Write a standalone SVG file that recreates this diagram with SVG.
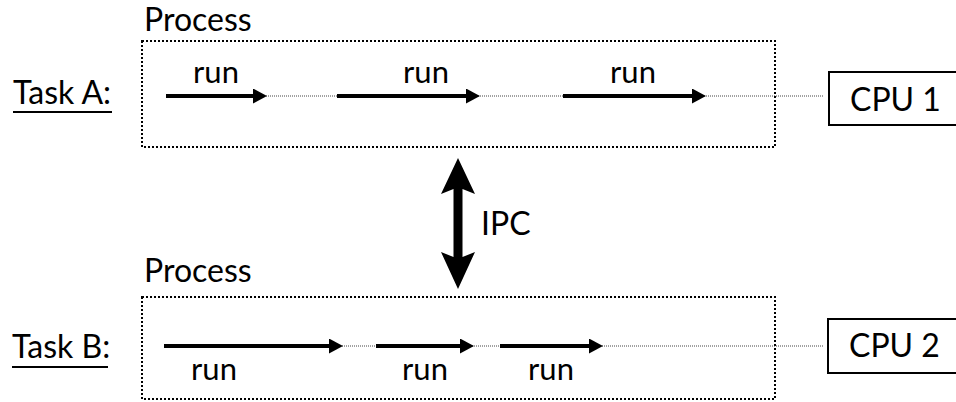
<svg xmlns="http://www.w3.org/2000/svg" width="956" height="402" viewBox="0 0 956 402">
<defs>
<style>
text{font-family:"Lato","Liberation Sans",sans-serif;fill:#000}
.lbl{font-size:31px}
.big{font-size:32px}
.proc{fill:none;stroke:#000;stroke-width:2;stroke-dasharray:2 2}
.run{stroke:#000;stroke-width:4;fill:none}
.idle{stroke:#444;stroke-width:1;stroke-dasharray:1 1;fill:none}
.cpu{fill:#fff;stroke:#000;stroke-width:2}
.ul{stroke:#000;stroke-width:2}
</style>
<marker id="ah" markerUnits="userSpaceOnUse" markerWidth="16" markerHeight="16" refX="2" refY="7.5" orient="auto">
<path d="M0,0 L14,7.5 L0,15 Z" fill="#000"/>
</marker>
</defs>

<g id="taskA-label">
<text class="big" x="13" y="104">Task A:</text>
<line class="ul" x1="13" y1="112" x2="112" y2="112"/>
</g>
<g id="taskB-label">
<text class="big" x="12" y="358">Task B:</text>
<line class="ul" x1="12" y1="367" x2="108" y2="367"/>
</g>

<g id="connectors">
<line class="idle" x1="260" y1="96" x2="823" y2="96"/>
<line class="idle" x1="336" y1="346" x2="823" y2="346"/>
<line class="run" x1="166" y1="96" x2="255" y2="96" marker-end="url(#ah)"/>
<line class="run" x1="337" y1="96" x2="468" y2="96" marker-end="url(#ah)"/>
<line class="run" x1="563" y1="96" x2="694" y2="96" marker-end="url(#ah)"/>
<line class="run" x1="164" y1="346" x2="331" y2="346" marker-end="url(#ah)"/>
<line class="run" x1="376" y1="346" x2="462" y2="346" marker-end="url(#ah)"/>
<line class="run" x1="500" y1="346" x2="591" y2="346" marker-end="url(#ah)"/>
<path id="ipc-arrow" d="M458,158 L475,194 L462.5,189 L462.5,257 L475,252 L458,289 L441,252 L453.5,257 L453.5,189 L441,194 Z" fill="#000"/>
</g>

<g id="processA">
<rect class="proc" x="142" y="41" width="633" height="106"/>
<text class="big" x="144" y="31">Process</text>
</g>
<g id="processB">
<rect class="proc" x="142" y="297" width="633" height="102"/>
<text class="big" x="144" y="282">Process</text>
</g>

<g id="run-labels">
<text class="lbl" x="216" y="83" text-anchor="middle">run</text>
<text class="lbl" x="426" y="83" text-anchor="middle">run</text>
<text class="lbl" x="633" y="83" text-anchor="middle">run</text>
<text class="lbl" x="214" y="380" text-anchor="middle">run</text>
<text class="lbl" x="425" y="380" text-anchor="middle">run</text>
<text class="lbl" x="551" y="380" text-anchor="middle">run</text>
</g>

<g id="ipc-label">
<text class="big" x="481" y="235">IPC</text>
</g>

<g id="cpu1">
<rect class="cpu" x="829" y="72" width="140" height="53"/>
<text class="big" x="850" y="111">CPU 1</text>
</g>
<g id="cpu2">
<rect class="cpu" x="828" y="319" width="140" height="54"/>
<text class="big" x="849" y="357">CPU 2</text>
</g>
</svg>
